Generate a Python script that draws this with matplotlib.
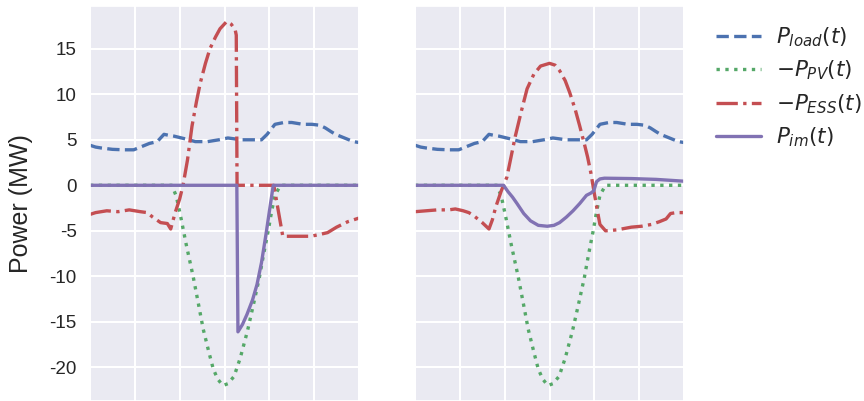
import matplotlib
matplotlib.use('Agg')  # noqa
import matplotlib.pyplot as plt
import seaborn as sns

sns.set_theme(style='darkgrid')
plt.rcParams['font.family'] = ['Liberation Sans', 'DejaVu Sans']
plt.rcParams['axes.unicode_minus'] = False

# hours
t_load = [0, 0.5, 1, 2, 3, 3.9, 4.5, 5.3, 6.0, 6.6, 7.0, 7.5, 8.5, 9.4, 10.5,
          11.5, 12.3, 13.5, 14.5, 15.3, 15.8, 16.5, 17.3, 18.0, 19.0, 19.8,
          20.5, 21.0, 21.5, 21.9, 22.5, 23.5, 24]
p_load = [4.4, 4.2, 4.1, 3.95, 3.9, 3.9, 4.2, 4.6, 4.8, 5.6, 5.5, 5.4, 5.1,
          4.8, 4.8, 5.0, 5.2, 5.0, 5.0, 5.0, 5.6, 6.7, 6.9, 6.9, 6.7, 6.7,
          6.6, 6.3, 5.9, 5.6, 5.3, 4.8, 4.7]

t_pv = [0, 7.3, 7.7, 8.1, 8.6, 9.2, 9.7, 10.1, 10.6, 11.0, 11.4, 11.85, 12.3,
        12.85, 13.4, 14.05, 14.6, 15.1, 15.5, 15.9, 16.2, 16.5, 17.0, 24]
p_pv = [0, 0, -1.2, -3.5, -6.6, -10.0, -13.2, -15.8, -18.3, -20.2, -21.3,
        -22.0, -21.8, -21.0, -19.0, -16.0, -13.0, -10.2, -7.5, -5.0, -2.9,
        -1.1, 0, 0]

# left: ESS + import
t_ess_a = [0, 0.5, 1.5, 2.5, 3.5, 4.5, 5.1, 5.6, 6.3, 6.9, 7.2, 7.6, 8.0, 8.3,
           8.7, 9.1, 9.5, 9.85, 10.3, 10.7, 11.2, 11.6, 12.2, 12.6, 12.95,
           13.05, 13.12, 16.4, 17.2, 18.0, 19.7, 20.5, 21.2, 22.0, 23.0, 24]
p_ess_a = [-3.2, -3.0, -2.8, -2.9, -2.7, -2.9, -3.0, -3.5, -4.1, -4.2, -4.8,
           -3.0, -1.5, 0, 2.8, 6.5, 9.2, 11.3, 13.4, 15.0, 16.3, 17.2, 18.0,
           17.7, 17.1, 16.5, 0, 0, -5.6, -5.6, -5.6, -5.4, -5.2, -4.6, -4.0,
           -3.6]
t_im_a = [0, 13.1, 13.2, 13.6, 14.0, 14.5, 14.9, 15.3, 15.7, 16.0, 16.35, 24]
p_im_a = [0, 0, -16.1, -15.3, -14.2, -12.6, -10.9, -8.5, -5.4, -2.9, 0, 0]

# right: ESS + import
t_ess_b = [0, 1, 2, 3, 3.6, 4.3, 4.8, 5.2, 5.6, 6.0, 6.6, 6.9, 7.2, 7.7, 8.2,
           8.95, 9.5, 10.0, 10.6, 11.2, 12.0, 12.5, 12.9, 13.4, 13.8, 14.3,
           14.7, 15.1, 15.4, 15.7, 16.0, 16.3, 16.5, 17.0, 18.0, 19.3, 20.2,
           21.1, 21.8, 22.4, 22.8, 23.3, 24]
p_ess_b = [-2.9, -2.8, -2.7, -2.7, -2.6, -2.8, -3.0, -3.3, -3.7, -4.1, -4.8,
           -3.8, -2.4, -0.6, 0.9, 5.4, 8.2, 10.6, 12.2, 13.1, 13.4, 13.2, 12.6,
           11.5, 10.2, 8.3, 6.5, 4.6, 3.1, 1.3, -0.9, -3.0, -4.3, -5.0, -4.9,
           -4.6, -4.5, -4.3, -4.0, -3.7, -3.1, -3.0, -3.0]
t_im_b = [0, 7.9, 8.3, 8.7, 9.1, 9.7, 10.3, 11.0, 11.8, 12.4, 12.9, 13.5, 14.1,
          14.7, 15.3, 15.7, 15.95, 16.2, 16.5, 16.9, 19.3, 21.5, 24]
p_im_b = [0, 0, -0.7, -1.3, -2.0, -3.1, -3.9, -4.4, -4.5, -4.4, -4.1, -3.5,
          -2.8, -2.0, -1.1, -0.85, -0.6, 0.4, 0.7, 0.78, 0.74, 0.65, 0.45]

labels = ['$P_{load}(t)$', '$-P_{PV}(t)$', '$-P_{ESS}(t)$', '$P_{im}(t)$']
colors = sns.color_palette('deep')
lw = 2.4

fig = plt.figure(figsize=(8.64, 4.01), dpi=100)
ax1 = fig.add_axes([90 / 864, 0, 269 / 864, 395 / 401])
ax2 = fig.add_axes([415 / 864, 0, 269 / 864, 395 / 401], sharey=ax1)

panels = [(ax1, t_ess_a, p_ess_a, t_im_a, p_im_a),
          (ax2, t_ess_b, p_ess_b, t_im_b, p_im_b)]
for ax, te, pe, ti, pi in panels:
    ax.plot(t_load, p_load, '--', color=colors[0], lw=lw, label=labels[0])
    ax.plot(t_pv, p_pv, ':', color=colors[2], lw=lw, label=labels[1])
    ax.plot(te, pe, '-.', color=colors[3], lw=lw, label=labels[2])
    ax.plot(ti, pi, '-', color=colors[4], lw=lw, label=labels[3])
    ax.set_xlim(0, 24)
    ax.set_xticks([0, 4, 8, 12, 16, 20, 24])
    ax.set_xticklabels([])
    ax.grid(lw=1.5)

ax1.set_ylim(-23.7, 19.7)
ax1.set_yticks([-20, -15, -10, -5, 0, 5, 10, 15])
ax1.tick_params(axis='y', labelsize=13.5)
ax1.set_ylabel('Power (MW)', fontsize=18, labelpad=12)
plt.setp(ax2.get_yticklabels(), visible=False)

fig.legend(*ax1.get_legend_handles_labels(), loc='upper left',
           bbox_to_anchor=(0.806, 0.985), frameon=False, fontsize=15.5,
           handlelength=2.1, handletextpad=0.7, labelspacing=0.46)

plt.savefig('out.png', dpi=100)
